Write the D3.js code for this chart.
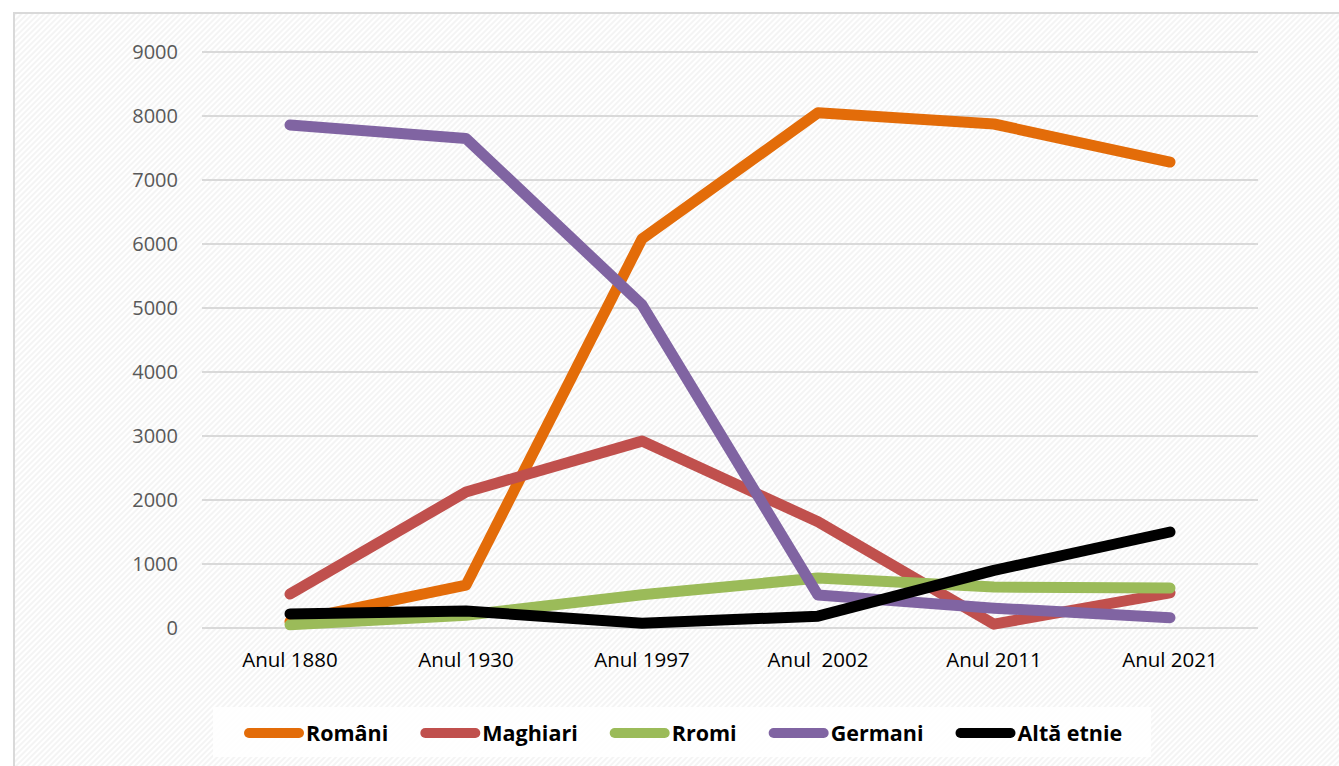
<!DOCTYPE html>
<head>
  <meta charset="utf8">
  <title>Etnii</title>
  <script src="https://d3js.org/d3.v7.min.js"></script>
  <style>
    body { margin: 0; background: #fff; }
    text { font-family: "Open Sans", sans-serif; }
  </style>
</head>
<body>
<script>
  // years on the x axis (note the double space in the original label)
  var categories = ["Anul 1880", "Anul 1930", "Anul 1997", "Anul  2002", "Anul 2011", "Anul 2021"];
  var yTicks = [0, 1000, 2000, 3000, 4000, 5000, 6000, 7000, 8000, 9000];

  var romani   = [100, 670, 6080, 8050, 7875, 7280];
  var maghiari = [530, 2125, 2920, 1660, 60, 550];
  var rromi    = [50, 200, 520, 780, 640, 625];
  var germani  = [7860, 7650, 5050, 515, 310, 160];
  var alta     = [220, 265, 75, 185, 900, 1500];

  var seriesNames = ["Români", "Maghiari", "Rromi", "Germani", "Altă etnie"];
  var seriesValues = [romani, maghiari, rromi, germani, alta];
  var seriesColors = ["#e36c09", "#c0504d", "#9bbb59", "#8064a2", "#000000"];

  var width = 1339, height = 766;
  var margin = { left: 202, right: 81, top: 52, bottom: 138 };

  var svg = d3.select("body").append("svg")
    .attr("width", width)
    .attr("height", height);

  // light diagonal hatching of the chart area
  var pat = svg.append("defs").append("pattern")
    .attr("id", "hatch")
    .attr("patternUnits", "userSpaceOnUse")
    .attr("width", 4).attr("height", 4)
    .attr("patternTransform", "rotate(-45)");
  pat.append("rect").attr("width", 4).attr("height", 4).attr("fill", "#ffffff");
  pat.append("rect").attr("width", 4).attr("height", 2).attr("fill", "#f4f4f4");

  svg.append("rect")
    .attr("x", 14).attr("y", 13)
    .attr("width", width).attr("height", height)
    .attr("fill", "url(#hatch)")
    .attr("stroke", "#d9d9d9")
    .attr("stroke-width", 2);

  var x = d3.scaleBand()
    .domain(categories)
    .range([margin.left, width - margin.right])
    .padding(0);

  var y = d3.scaleLinear()
    .domain([0, 9000])
    .range([height - margin.bottom, margin.top]);

  // gridlines
  svg.append("g")
    .selectAll("line")
    .data(yTicks)
    .enter().append("line")
    .attr("x1", margin.left).attr("x2", width - margin.right)
    .attr("y1", function(d) { return y(d); })
    .attr("y2", function(d) { return y(d); })
    .attr("stroke", "#d9d9d9")
    .attr("stroke-width", 2);

  // y axis labels
  var yAxis = svg.append("g")
    .attr("transform", "translate(" + (margin.left - 24) + ",0)")
    .call(d3.axisLeft(y).tickValues(yTicks).tickSize(0).tickPadding(0).tickFormat(d3.format("d")));
  yAxis.select(".domain").remove();
  yAxis.selectAll("text")
    .attr("font-family", "Open Sans")
    .attr("font-size", "20px")
    .attr("fill", "#595959");

  // x axis labels
  var xAxis = svg.append("g")
    .attr("transform", "translate(0," + (height - margin.bottom + 24) + ")")
    .call(d3.axisBottom(x).tickSize(0).tickPadding(0));
  xAxis.select(".domain").remove();
  xAxis.selectAll("text")
    .attr("font-family", "Open Sans")
    .attr("font-size", "20.5px")
    .attr("fill", "#000")
    .style("white-space", "pre");

  var line = d3.line()
    .x(function(d, i) { return x(categories[i]) + x.bandwidth() / 2; })
    .y(function(d) { return y(d); });

  svg.append("g")
    .selectAll("path")
    .data(seriesValues)
    .enter().append("path")
    .attr("d", line)
    .attr("fill", "none")
    .attr("stroke", function(d, i) { return seriesColors[i]; })
    .attr("stroke-width", 11)
    .attr("stroke-linecap", "round")
    .attr("stroke-linejoin", "round");

  // legend
  svg.append("rect")
    .attr("x", 213).attr("y", 707)
    .attr("width", 938).attr("height", 50)
    .attr("fill", "#ffffff")
    .attr("fill-opacity", 0.85);

  var legend = svg.append("g");
  var lx = 244, ly = 733;
  seriesNames.forEach(function(name, i) {
    var g = legend.append("g");
    g.append("line")
      .attr("x1", lx + 5).attr("x2", lx + 55)
      .attr("y1", ly).attr("y2", ly)
      .attr("stroke", seriesColors[i])
      .attr("stroke-width", 10)
      .attr("stroke-linecap", "round");
    var t = g.append("text")
      .attr("x", lx + 62)
      .attr("y", ly + 8)
      .attr("font-size", "21.5px")
      .attr("font-weight", "bold")
      .attr("fill", "#000")
      .text(name);
    lx = lx + 62 + t.node().getComputedTextLength() + 32;
  });
</script>
</body>
